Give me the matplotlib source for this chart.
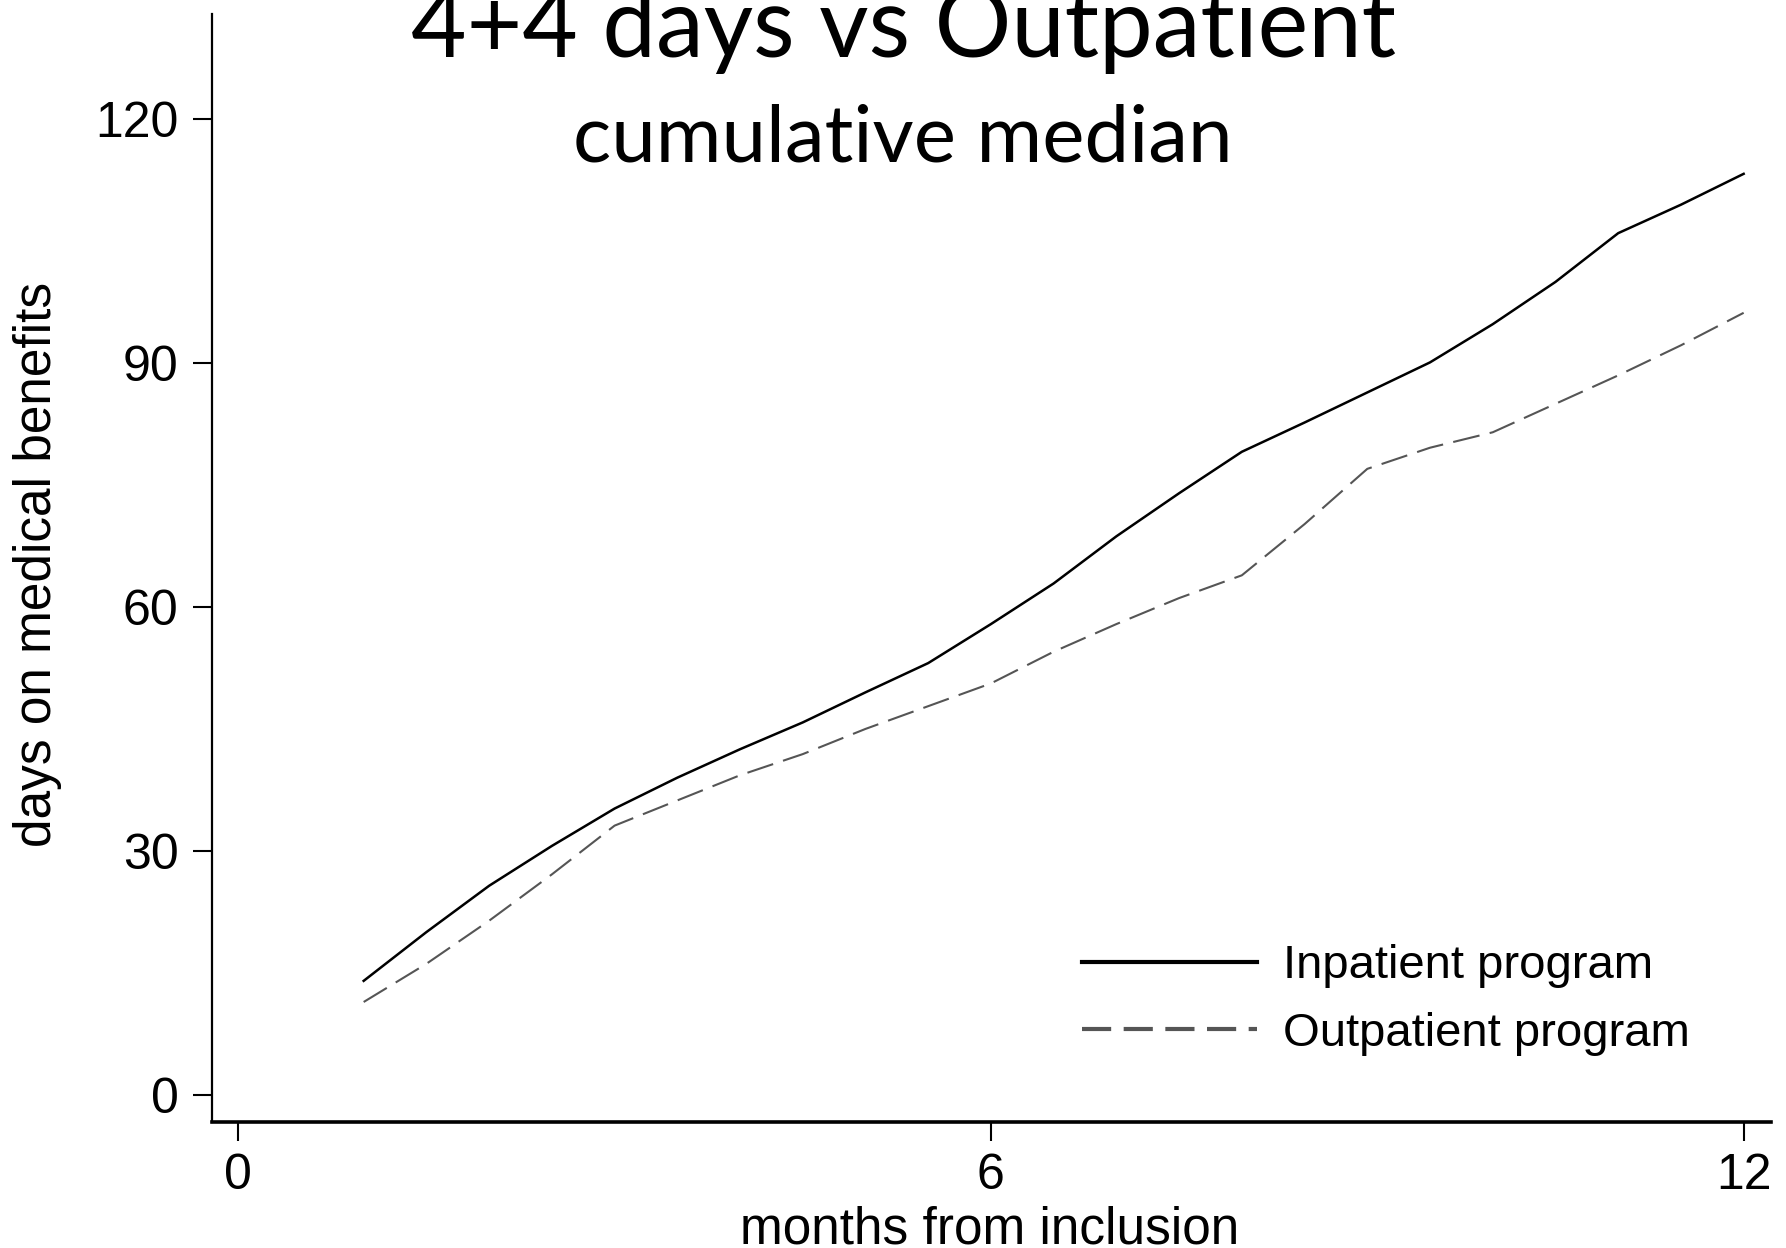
import numpy as np
import matplotlib
matplotlib.use('Agg')
import matplotlib.pyplot as plt

# months from inclusion
months = [1, 1.5, 2, 2.5, 3, 3.5, 4, 4.5, 5, 5.5, 6, 6.5,
          7, 7.5, 8, 8.5, 9, 9.5, 10, 10.5, 11, 11.5, 12]
# cumulative median days on medical benefits
inpatient = [14.0, 20.0, 25.7, 30.6, 35.2, 39.0, 42.5, 45.8, 49.5, 53.1, 57.9, 62.9,
             68.7, 74.0, 79.1, 82.7, 86.4, 90.1, 94.8, 100.0, 106.0, 109.5, 113.3]
outpatient = [11.4, 16.1, 21.4, 27.1, 33.1, 36.2, 39.3, 41.9, 45.0, 47.8, 50.6, 54.5,
              57.9, 61.1, 63.9, 70.2, 77.0, 79.6, 81.5, 85.0, 88.5, 92.2, 96.2]
xticks = [0, 6, 12]
yticks = [0, 30, 60, 90, 120]

plt.rcParams['font.family'] = ['Liberation Sans', 'DejaVu Sans']

fig = plt.figure(figsize=(17.86, 12.48), dpi=100)
ax = fig.add_axes([0.1187, 0.1010, 0.8729, 0.888])

ax.plot(months, inpatient, color='black', lw=1.8, label='Inpatient program')
ax.plot(months, outpatient, color='#555555', lw=1.5, dashes=(13, 5), label='Outpatient program')

ax.set_xlim(-0.209, 12.218)
ax.set_ylim(-3.36, 133)
ax.set_xticks(xticks)
ax.set_yticks(yticks)

for s in ['top', 'right']:
    ax.spines[s].set_visible(False)
ax.spines['left'].set_linewidth(1.6)
ax.spines['bottom'].set_linewidth(2.6)

ax.tick_params(axis='both', direction='out', length=14, width=1.5, labelsize=36)
ax.tick_params(axis='y', pad=10)
ax.tick_params(axis='x', pad=8)

ax.set_xlabel('months from inclusion', fontsize=37)
ax.set_ylabel('days on medical benefits', fontsize=37)
ax.xaxis.set_label_coords(0.499, -0.075)
ax.yaxis.set_label_coords(-0.096, 0.503)

leg = ax.legend(loc='center left', bbox_to_anchor=(1082 / 1786, 1 - 1000 / 1248),
                bbox_transform=fig.transFigure, frameon=False, fontsize=34,
                handlelength=3.7, handletextpad=0.55, labelspacing=0.5,
                borderpad=0, borderaxespad=0)
hl = leg.get_lines()
hl[0].set_linewidth(3)
hl[1].set_linewidth(3)
hl[1].set_dashes((7, 3))

fig.text(0.5056, 1 - 57 / 1248, '4+4 days vs Outpatient', ha='center', va='baseline',
         fontsize=69, family=['Lato', 'DejaVu Sans'])
fig.text(0.5056, 1 - 162 / 1248, 'cumulative median', ha='center', va='baseline',
         fontsize=57.5, family=['Lato', 'DejaVu Sans'])

fig.savefig('out.png', dpi=100)
